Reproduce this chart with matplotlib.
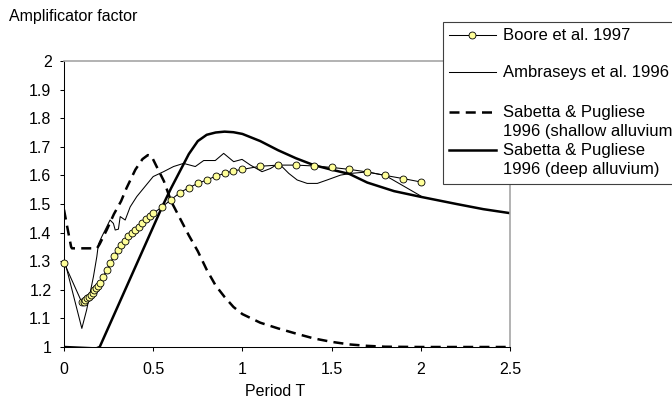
## amplification factor vs period, four attenuation relations

import matplotlib.pyplot as plt
from matplotlib.lines import Line2D
from matplotlib.patches import Rectangle
import numpy as np

plt.rcParams['font.family'] = ['Liberation Sans', 'DejaVu Sans']

# Boore et al. 1997
boore_T = [0, 0.10, 0.11, 0.12, 0.13, 0.14, 0.15, 0.16, 0.17, 0.18, 0.19, 0.20,
           0.22, 0.24, 0.26, 0.28, 0.30, 0.32, 0.34, 0.36, 0.38, 0.40, 0.42, 0.44,
           0.46, 0.48, 0.50, 0.55, 0.60, 0.65, 0.70, 0.75, 0.80, 0.85, 0.90, 0.95,
           1.0, 1.1, 1.2, 1.3, 1.4, 1.5, 1.6, 1.7, 1.8, 1.9, 2.0]
boore_A = [1.295, 1.156, 1.159, 1.165, 1.170, 1.176, 1.182, 1.190, 1.198, 1.206, 1.215, 1.225,
           1.246, 1.270, 1.295, 1.318, 1.338, 1.356, 1.372, 1.387, 1.400, 1.410, 1.421, 1.433,
           1.446, 1.458, 1.467, 1.490, 1.515, 1.540, 1.557, 1.572, 1.584, 1.597, 1.607, 1.616,
           1.621, 1.632, 1.636, 1.636, 1.633, 1.628, 1.621, 1.612, 1.600, 1.589, 1.577]

# Ambraseys et al. 1996
ambr_T = [0, 0.10, 0.127, 0.165, 0.184, 0.193, 0.212, 0.24, 0.258, 0.277, 0.287, 0.305,
          0.315, 0.343, 0.371, 0.408, 0.446, 0.50, 0.558, 0.614, 0.67, 0.736, 0.783, 0.848,
          0.895, 0.951, 0.998, 1.045, 1.11, 1.157, 1.204, 1.26, 1.307, 1.363, 1.42, 1.475,
          1.55, 1.607, 1.70, 1.80, 2.0]
ambr_A = [1.31, 1.065, 1.13, 1.246, 1.316, 1.36, 1.386, 1.421, 1.444, 1.432, 1.409, 1.412,
          1.456, 1.444, 1.49, 1.526, 1.555, 1.596, 1.613, 1.631, 1.642, 1.631, 1.652, 1.652,
          1.677, 1.648, 1.656, 1.636, 1.613, 1.624, 1.642, 1.607, 1.584, 1.572, 1.572, 1.584,
          1.601, 1.607, 1.612, 1.600, 1.528]

# Sabetta & Pugliese 1996, shallow alluvium
sps_T = [0, 0.015, 0.04, 0.045, 0.10, 0.185, 0.20, 0.24, 0.28, 0.32, 0.35, 0.40, 0.44,
         0.47, 0.49, 0.52, 0.56, 0.60, 0.65, 0.70, 0.75, 0.80, 0.85, 0.90, 0.95, 1.0,
         1.1, 1.2, 1.3, 1.4, 1.5, 1.6, 1.7, 1.8, 2.0, 2.5]
sps_A = [1.48, 1.43, 1.35, 1.345, 1.345, 1.345, 1.36, 1.41, 1.465, 1.51, 1.555, 1.62, 1.657,
         1.671, 1.668, 1.63, 1.58, 1.51, 1.45, 1.39, 1.335, 1.27, 1.215, 1.175, 1.14, 1.115,
         1.085, 1.065, 1.047, 1.03, 1.018, 1.009, 1.004, 1.001, 1.0, 1.0]

# Sabetta & Pugliese 1996, deep alluvium
spd_T = [0, 0.18, 0.20, 0.25, 0.30, 0.35, 0.40, 0.45, 0.50, 0.55, 0.60, 0.65, 0.70, 0.75,
         0.80, 0.85, 0.90, 0.95, 1.0, 1.1, 1.2, 1.3, 1.4, 1.5, 1.6, 1.7, 1.85, 2.0, 2.2,
         2.35, 2.5]
spd_A = [1.0, 0.995, 1.0, 1.07, 1.14, 1.21, 1.28, 1.35, 1.42, 1.49, 1.555, 1.615, 1.675, 1.72,
         1.742, 1.75, 1.753, 1.751, 1.745, 1.72, 1.688, 1.66, 1.636, 1.62, 1.605, 1.575, 1.545,
         1.525, 1.50, 1.482, 1.468]

leg_labels = ['Boore et al. 1997', 'Ambraseys et al. 1996',
              'Sabetta & Pugliese\n1996 (shallow alluvium)',
              'Sabetta & Pugliese\n1996 (deep alluvium)']

W, H = 672, 400
fig = plt.figure(figsize=(W/100, H/100), dpi=100)
ax = fig.add_axes([64/W, 1-347/H, 446/W, 286/H])

ax.plot(sps_T, sps_A, color='black', lw=1.8, dashes=(4, 2.5))
ax.plot(spd_T, spd_A, color='black', lw=1.8)
ax.plot(ambr_T, ambr_A, color='black', lw=0.75)
ax.plot(boore_T, boore_A, color='black', lw=0.75, marker='o', markersize=5,
        markerfacecolor='#ffff99', markeredgecolor='black', markeredgewidth=0.6,
        clip_on=False, zorder=4)

ax.set_xlim(0, 2.5)
ax.set_ylim(1, 2)
ax.set_xticks(np.arange(0, 2.51, 0.5))
ax.set_xticklabels(['0', '0.5', '1', '1.5', '2', '2.5'])
ax.set_yticks(np.arange(1, 2.01, 0.1))
ax.set_yticklabels(['1', '1.1', '1.2', '1.3', '1.4', '1.5', '1.6', '1.7', '1.8', '1.9', '2'])
ax.tick_params(axis='both', direction='out', length=3, width=0.75, labelsize=11.5)
ax.tick_params(axis='x', pad=8)
ax.tick_params(axis='y', pad=6)
ax.tick_params(axis='both', which='both', top=False, right=False)
for s in ['left', 'bottom']:
    ax.spines[s].set_color('black')
    ax.spines[s].set_linewidth(0.75)
for s in ['top', 'right']:
    ax.spines[s].set_color('#a6a6a6')
    ax.spines[s].set_linewidth(1.2)

ax.set_xlabel('Period T', fontsize=11.5)
ax.xaxis.set_label_coords((275-64)/446, -0.128)
fig.text(9/W, 1-9/H, 'Amplificator factor', fontsize=11.5, va='top', ha='left')

# legend box drawn by hand (Excel-like layout, clipped at right edge)
fig.patches.append(Rectangle((443/W, 1-184/H), 300/W, 162/H, transform=fig.transFigure,
                             facecolor='white', edgecolor='#404040', lw=0.8, zorder=5))
hy = [35, 72, 112, 150]
styles = [dict(lw=0.75, marker='o', markersize=5, markerfacecolor='#ffff99',
               markeredgecolor='black', markeredgewidth=0.6, markevery=[1]),
          dict(lw=0.75),
          dict(lw=1.8, dashes=(4, 2.5)),
          dict(lw=1.8)]
for y, st, lab in zip(hy, styles, leg_labels):
    fig.lines.append(Line2D([449/W, 472/W, 496/W], [1-y/H]*3, color='black',
                            transform=fig.transFigure, zorder=6, **st))
    fig.text(503/W, 1-(y-7)/H, lab, fontsize=12, va='top', ha='left',
             linespacing=1.35, zorder=6)

plt.savefig('out.png', dpi=100)
